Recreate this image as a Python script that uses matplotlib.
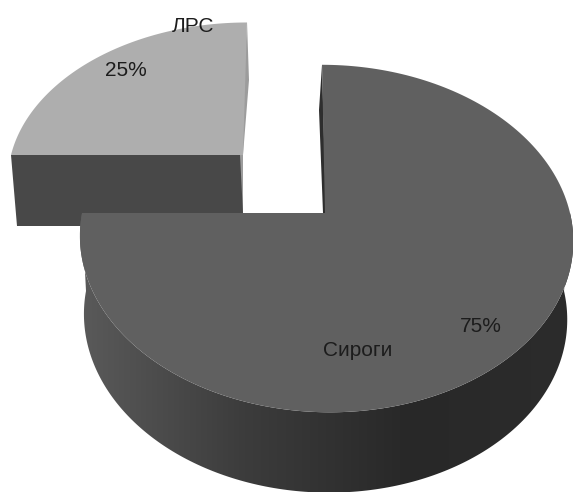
import numpy as np
import matplotlib
matplotlib.use("Agg")
import matplotlib.pyplot as plt
from matplotlib.colors import LinearSegmentedColormap
from matplotlib.patches import Polygon

categories = ["ЛРС", "Сироги"]
values = [25, 75]
pct_labels = ["25%", "75%"]

plt.rcParams['font.family'] = ['Liberation Sans Narrow', 'Liberation Sans', 'DejaVu Sans']

# the picture is a flattened 3d pie, so work in pixels of the image
fig = plt.figure(figsize=(5.73, 4.92), dpi=100)
ax = fig.add_axes([0, 0, 1, 1])
ax.set_xlim(0, 573)
ax.set_ylim(492, 0)
ax.axis('off')

TILT = 0.147


def rim(cx, cy, rx, ry, a0, a1, lean=0):
    # circle seen in perspective, a0 and a1 in degrees
    t = np.radians(np.linspace(a0, a1, 200))
    c, s = np.cos(t), np.sin(t)
    w = 1 + TILT * s
    return np.column_stack([cx + rx * c / w + lean * s, cy - ry * s / w])


shares = np.array(values) / sum(values) * 360
small_a0, small_a1 = 90, 90 + shares[0]
main_a0, main_a1 = small_a1, small_a1 + shares[1]

# small slice, pulled out to the upper left
small_top = rim(243, 155, 232, 152, small_a0, small_a1, lean=4)
front = [small_top[-1], (243, 155), (243, 226), (17, 226)]
ax.add_patch(Polygon(front, closed=True, fc='#484848', ec='none', zorder=1))
ax.add_patch(Polygon([(247, 22), (249, 80), (243, 155), (243, 213), (240, 155)],
                     closed=True, fc='#9c9c9c', ec='none', zorder=1))
ax.add_patch(Polygon(np.vstack([[(243, 155)], small_top]), closed=True,
                     fc='#aeaeae', ec='none', zorder=2))

# side wall of the big slice with a left to right shading
upper = rim(326, 213, 244, 170, 180, 360, lean=-4)
lower = rim(325, 291, 239, 172, 180, 360, lean=-4)
side = Polygon(np.vstack([upper, lower[::-1]]), closed=True, fc='none', ec='none', zorder=3)
ax.add_patch(side)
shade = LinearSegmentedColormap.from_list('side', ['#5a5a5a', '#3c3c3c', '#282828', '#2c2c2c'])
img = ax.imshow(np.linspace(0, 1, 256).reshape(1, -1), cmap=shade, aspect='auto',
                extent=(80, 573, 492, 213), zorder=3)
img.set_clip_path(side)
ax.set_xlim(0, 573)
ax.set_ylim(492, 0)

# big slice top and the sliver of its inner wall
ax.add_patch(Polygon([(322, 65), (319, 110), (323, 213), (326, 213)], closed=True,
                     fc='#2e2e2e', ec='none', zorder=3))
main_top = rim(326, 213, 244, 170, main_a0, main_a1, lean=-4)
ax.add_patch(Polygon(np.vstack([[(325, 213)], main_top]), closed=True,
                     fc='#606060', ec='none', zorder=4))

txt = dict(color='#1c1c1c', fontsize=15, ha='center', va='center', zorder=5)
ax.text(193, 26, categories[0], **txt)
ax.text(126, 71, pct_labels[0], **txt)
ax.text(358, 351, categories[1], **txt)
ax.text(481, 326, pct_labels[1], **txt)

fig.savefig("out.png", dpi=100)
